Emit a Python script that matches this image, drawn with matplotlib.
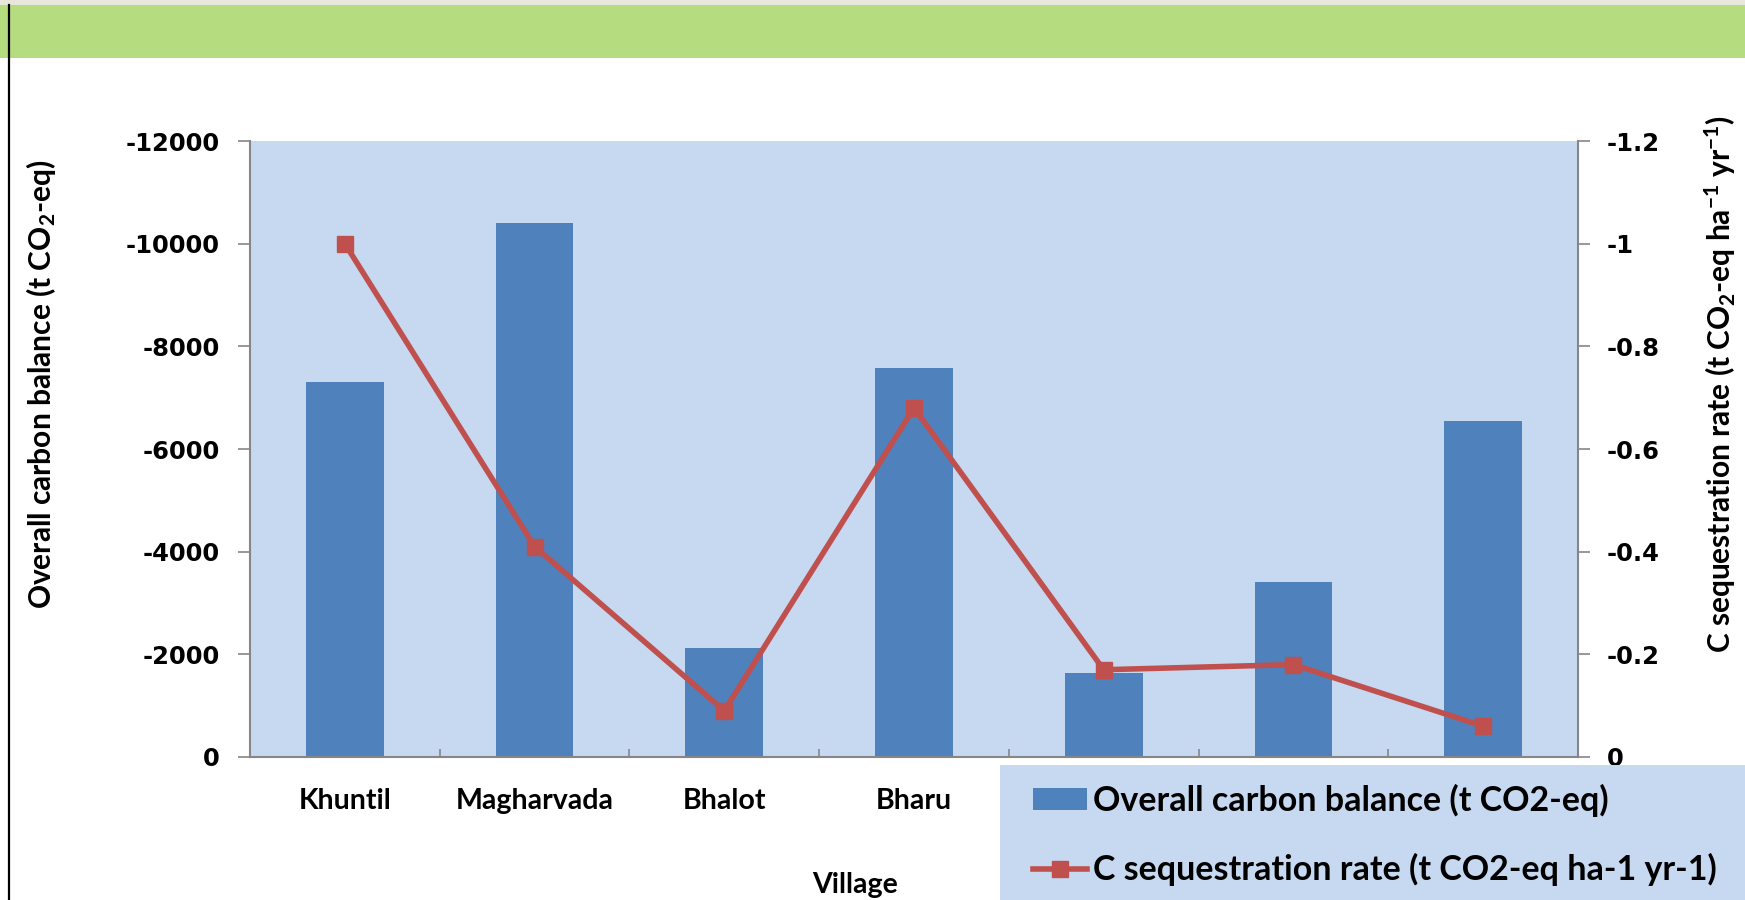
import matplotlib
matplotlib.use("Agg")
import matplotlib.pyplot as plt
from matplotlib.patches import Rectangle
from matplotlib.lines import Line2D
from matplotlib.ticker import FixedLocator, FuncFormatter

# ---------------- data ----------------
villages = ["Khuntil", "Magharvada", "Bhalot", "Bharu", "", "", ""]
carbon_balance = [-7300, -10400, -2130, -7570, -1630, -3400, -6550]
seq_rate = [-1.0, -0.41, -0.09, -0.68, -0.17, -0.18, -0.06]
left_ticks = [0, -2000, -4000, -6000, -8000, -10000, -12000]
right_ticks = [0, -0.2, -0.4, -0.6, -0.8, -1, -1.2]
bar_label = "Overall carbon balance (t CO2-eq)"
line_label = "C sequestration rate (t CO2-eq ha-1 yr-1)"

# ---------------- style ----------------
plt.rcParams["font.family"] = ["Lato", "DejaVu Sans"]
plt.rcParams["mathtext.fontset"] = "custom"
plt.rcParams["mathtext.rm"] = "Lato:bold"
plt.rcParams["mathtext.it"] = "Lato:bold"
plt.rcParams["mathtext.bf"] = "Lato:bold"
plt.rcParams["mathtext.sf"] = "Lato:bold"

W, H = 1745, 900
fig = plt.figure(figsize=(W / 100, H / 100), dpi=100)
fig.patch.set_facecolor("white")

def fx(px):
    return px / W

def fy(py):
    return 1 - py / H

# top strip + green banner + black line
fig.patches.append(Rectangle((0, fy(5)), 1, 5 / H, transform=fig.transFigure,
                             facecolor="#E9E6DC", edgecolor="none", zorder=0))
fig.patches.append(Rectangle((0, fy(58)), 1, 53 / H, transform=fig.transFigure,
                             facecolor="#B6DC80", edgecolor="none", zorder=0))
fig.lines.append(Line2D([fx(9), fx(9)], [0, fy(5)], transform=fig.transFigure,
                        color="black", lw=1.6, zorder=1))

grey = "#868686"
L, R, T, B = 250, 1578, 141, 757
ax = fig.add_axes([fx(L), fy(B), (R - L) / W, (B - T) / H])
ax.set_facecolor("#C6D9F1")

x = list(range(len(villages)))
bars = ax.bar(x, carbon_balance, width=0.41, color="#4F81BD", zorder=2,
              label=bar_label)
ax.set_xlim(-0.5, len(villages) - 0.5)
ax.set_ylim(0, -12000)
ax.yaxis.set_major_locator(FixedLocator(left_ticks))
ax.yaxis.set_major_formatter(FuncFormatter(lambda v, p: f"{v:g}"))
ax.set_xticks(x)
ax.set_xticklabels(villages, fontsize=20.5, fontweight="bold", family="Lato")
ax.xaxis.set_minor_locator(FixedLocator([i + 0.5 for i in range(len(villages) - 1)]))
ax.tick_params(axis="x", which="major", length=0, pad=22)
ax.tick_params(axis="x", which="minor", direction="in", length=6, width=1.2, color=grey)
ax.tick_params(axis="y", which="major", length=8.6, width=1.2, color=grey, pad=13)
for lab in ax.get_yticklabels():
    lab.set_fontfamily("DejaVu Sans")
    lab.set_fontweight("bold")
    lab.set_fontsize(17.5)

for s in ["top", "right"]:
    ax.spines[s].set_visible(False)
for s in ["left", "bottom"]:
    ax.spines[s].set_color(grey)
    ax.spines[s].set_linewidth(1.5)

ax2 = ax.twinx()
line, = ax2.plot(x, seq_rate, color="#C0504D", lw=4, marker="s", ms=11.5,
                 markeredgecolor="#C0504D", label=line_label, zorder=3)
ax2.set_ylim(0, -1.2)
ax2.yaxis.set_major_locator(FixedLocator(right_ticks))
ax2.yaxis.set_major_formatter(FuncFormatter(lambda v, p: f"{v:g}"))
ax2.tick_params(axis="y", which="major", length=8.6, width=1.2, color=grey, pad=12)
for lab in ax2.get_yticklabels():
    lab.set_fontfamily("DejaVu Sans")
    lab.set_fontweight("bold")
    lab.set_fontsize(17.5)
for s in ["top", "left", "bottom"]:
    ax2.spines[s].set_visible(False)
ax2.spines["right"].set_color(grey)
ax2.spines["right"].set_linewidth(1.5)

# axis titles
fig.text(fx(41), fy(384), "Overall carbon balance (t CO$_2$-eq)", rotation=90,
         ha="center", va="center", fontsize=21.5, fontweight="bold")
fig.text(fx(1720), fy(384), "C sequestration rate (t CO$_2$-eq ha$^{-1}$ yr$^{-1}$)",
         rotation=90, ha="center", va="center", fontsize=21.5, fontweight="bold")
fig.text(fx(855), fy(885), "Village", ha="center", va="center",
         fontsize=20.5, fontweight="bold")

# legend background + legend
fig.patches.append(Rectangle((fx(1000), 0), (W - 1000) / W, (H - 765) / H,
                             transform=fig.transFigure, facecolor="#C6D9F1",
                             edgecolor="none", zorder=4))
leg = fig.legend(handles=[bars, line], labels=[bar_label, line_label],
                 loc="upper left", bbox_to_anchor=(fx(1033), fy(784)),
                 frameon=False, borderaxespad=0, borderpad=0,
                 handlelength=1.6, handleheight=0.6,
                 handletextpad=0.15, labelspacing=1.05,
                 prop={"family": "Lato", "weight": "bold", "size": 24.5})
leg.set_zorder(6)

fig.savefig("out.png", dpi=100)
